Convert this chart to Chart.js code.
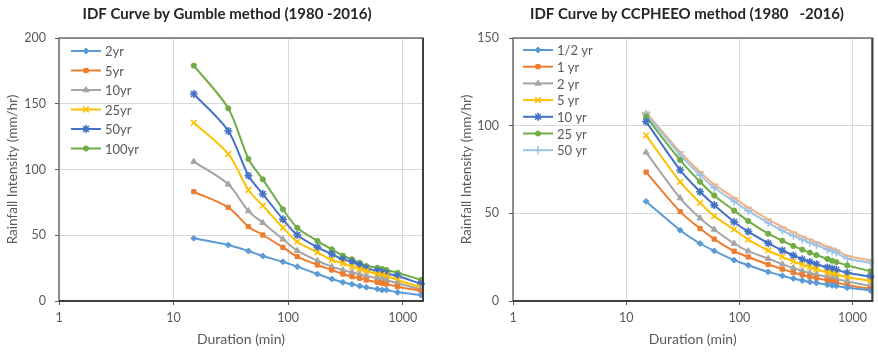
<!DOCTYPE html>
<html>
<head>
<meta charset="utf-8">
<title>IDF Curves</title>
<script src="https://cdn.jsdelivr.net/npm/chart.js@4/dist/chart.umd.min.js"></script>
<style>
  html, body { margin: 0; padding: 0; background: #ffffff; }
  #wrap { position: relative; width: 878px; height: 352px; overflow: hidden; }
  .panel { position: absolute; top: 0; height: 352px; }
</style>
</head>
<body>
<div id="wrap">
  <div class="panel" style="left:0;width:440px"><canvas id="gumbel" width="440" height="352"></canvas></div>
  <div class="panel" style="left:440px;width:438px"><canvas id="ccpheeo" width="438" height="352"></canvas></div>
</div>
<script>
// Storm durations (minutes)
const durations = [15, 30, 45, 60, 90, 120, 180, 240, 300, 360, 420, 480, 600, 660, 720, 900, 1440];
const durationTicks = [1, 10, 100, 1000];

// Gumbel method intensities (mm/hr) per return period
const gumbel2yr   = [47.7, 42.6, 38.0, 34.2, 29.9, 26.1, 20.5, 16.7, 14.2, 12.7, 11.4, 10.4, 9.1, 8.4, 8.4, 6.6, 4.6];
const gumbel5yr   = [83.1, 71.2, 56.5, 50.2, 40.8, 33.7, 27.4, 23.6, 20.5, 18.5, 17.3, 16.0, 14.2, 13.5, 12.9, 10.9, 7.8];
const gumbel10yr  = [106.0, 88.7, 68.4, 59.5, 46.9, 38.3, 30.6, 26.1, 23.6, 21.8, 20.3, 19.0, 17.3, 16.5, 16.0, 13.5, 8.9];
const gumbel25yr  = [135.6, 111.8, 84.4, 72.5, 55.7, 45.1, 37.0, 31.2, 28.7, 26.1, 24.3, 23.0, 20.5, 19.8, 19.0, 16.0, 10.4];
const gumbel50yr  = [157.4, 129.3, 95.3, 81.4, 62.1, 50.2, 40.8, 35.7, 31.7, 29.9, 27.4, 24.9, 22.8, 21.8, 21.0, 19.0, 13.0];
const gumbel100yr = [179.0, 146.5, 108.0, 92.5, 69.7, 55.7, 45.6, 39.3, 34.5, 31.7, 29.1, 26.6, 25.3, 24.3, 23.6, 21.5, 16.0];

// CCPHEEO method intensities (mm/hr) per return period
const ccpheeoHalfYr = [56.8, 40.4, 32.8, 28.6, 23.3, 20.4, 16.6, 14.4, 12.8, 11.7, 10.9, 10.3, 9.3, 8.9, 8.6, 7.6, 6.0];
const ccpheeo1yr    = [73.5, 51.0, 41.3, 35.3, 28.4, 25.1, 20.8, 18.2, 16.3, 14.9, 13.8, 13.0, 11.8, 11.2, 10.6, 9.0, 7.0];
const ccpheeo2yr    = [84.8, 58.7, 47.2, 40.8, 32.8, 28.4, 24.2, 21.0, 18.8, 17.2, 16.0, 15.1, 13.6, 13.0, 12.6, 11.2, 8.6];
const ccpheeo5yr    = [94.5, 68.0, 56.0, 48.4, 40.8, 35.0, 28.8, 25.2, 22.6, 20.7, 19.3, 18.1, 16.3, 15.6, 15.1, 13.6, 11.4];
const ccpheeo10yr   = [102.3, 74.7, 62.3, 54.7, 45.1, 39.6, 33.0, 28.8, 26.0, 23.8, 22.3, 21.0, 19.1, 18.4, 17.8, 16.1, 13.9];
const ccpheeo25yr   = [105.2, 80.4, 68.0, 60.2, 51.6, 45.6, 38.4, 34.4, 31.4, 29.3, 27.6, 26.2, 24.0, 23.0, 22.2, 20.3, 17.0];
const ccpheeo50yr   = [106.8, 83.4, 71.8, 64.6, 56.8, 51.4, 44.6, 40.2, 37.2, 35.0, 33.2, 31.8, 29.4, 28.4, 27.6, 24.2, 21.8];
const ccpheeo100yr  = [107.6, 85.0, 73.6, 66.5, 58.8, 53.4, 46.6, 42.2, 39.2, 36.8, 35.0, 33.5, 31.0, 30.0, 29.1, 25.8, 23.3];

const FONT = 'Lato, "Open Sans", "Liberation Sans", sans-serif';
const TEXT = '#595959';

function series(label, values, color, pointStyle, radius, showInLegend) {
  return {
    label,
    data: durations.map((d, i) => ({ x: d, y: values[i] })),
    borderColor: color,
    backgroundColor: color,
    borderWidth: 2,
    pointStyle,
    pointRadius: radius,
    pointHoverRadius: radius,
    pointBorderWidth: (pointStyle === 'crossRot' || pointStyle === 'star' || pointStyle === 'cross' || pointStyle === 'line') ? 1.6 : 1,
    pointBorderColor: color,
    pointBackgroundColor: color,
    tension: 0.3,
    clip: false,
    showInLegend: showInLegend !== false
  };
}

// Title, plot frame and an in-plot legend
const decorations = {
  id: 'decorations',
  afterDraw(chart, args, opts) {
    const { ctx, chartArea: a } = chart;
    ctx.save();
    // plot frame
    ctx.strokeStyle = '#6e6e6e';
    ctx.lineWidth = 1.5;
    ctx.strokeRect(a.left, a.top, a.right - a.left, a.bottom - a.top);
    ctx.strokeStyle = '#3f3f3f';
    ctx.lineWidth = 2;
    ctx.beginPath();
    ctx.moveTo(a.left, a.bottom); ctx.lineTo(a.right, a.bottom); ctx.lineTo(a.right, a.top);
    ctx.stroke();

    // title
    ctx.fillStyle = '#262626';
    ctx.font = 'bold 15px ' + FONT;
    ctx.textAlign = 'center';
    ctx.textBaseline = 'middle';
    ctx.fillText(opts.title, opts.titleX, 14);

    // legend
    ctx.font = opts.legendFont + 'px ' + FONT;
    ctx.textAlign = 'left';
    let row = 0;
    chart.data.datasets.forEach(ds => {
      if (!ds.showInLegend) return;
      const y = opts.legendTop + row * opts.legendStep;
      ctx.strokeStyle = ds.borderColor;
      ctx.lineWidth = 2;
      ctx.beginPath();
      ctx.moveTo(opts.legendX, y);
      ctx.lineTo(opts.legendX + opts.legendLine, y);
      ctx.stroke();
      ctx.fillStyle = ds.borderColor;
      ctx.lineWidth = ds.pointBorderWidth;
      Chart.helpers.drawPoint(ctx, {
        pointStyle: ds.pointStyle, radius: ds.pointRadius, borderWidth: ds.pointBorderWidth, rotation: 0
      }, opts.legendX + opts.legendLine / 2, y);
      ctx.fillStyle = TEXT;
      ctx.fillText(ds.label, opts.legendX + opts.legendLine + 4, y + 1);
      row++;
    });
    ctx.restore();
  }
};

function makeChart(canvasId, datasets, yMax, geom, deco) {
  return new Chart(document.getElementById(canvasId), {
    type: 'line',
    data: { datasets },
    plugins: [decorations],
    options: {
      responsive: false,
      animation: false,
      events: [],
      layout: { padding: { top: geom.top, right: geom.right, left: 0, bottom: 0 } },
      plugins: {
        legend: { display: false },
        title: { display: false },
        tooltip: { enabled: false },
        decorations: deco
      },
      scales: {
        x: {
          type: 'logarithmic',
          min: 1,
          max: 1500,
          afterBuildTicks: s => { s.ticks = durationTicks.map(v => ({ value: v })); },
          afterFit: s => { s.height = 51; },
          grid: { color: '#d9d9d9', lineWidth: 1, tickLength: 4, tickColor: '#595959', drawOnChartArea: true },
          border: { display: false },
          ticks: {
            color: TEXT, font: { family: FONT, size: 12.5 }, padding: 5, maxRotation: 0, autoSkip: false,
            callback: v => String(v)
          },
          title: { display: true, text: 'Duration (min)', color: TEXT, font: { family: FONT, size: 14 }, padding: { top: 0, bottom: 4 } }
        },
        y: {
          min: 0,
          max: yMax,
          afterFit: s => { s.width = geom.yWidth; },
          grid: { color: '#d9d9d9', lineWidth: 1, tickLength: 4, tickColor: '#595959' },
          border: { display: false },
          ticks: { stepSize: 50, color: TEXT, font: { family: FONT, size: 12.5 }, padding: geom.yPad },
          title: { display: true, text: 'Rainfall Intensity (mm/hr)', color: TEXT, font: { family: FONT, size: 13.5 }, padding: { top: geom.yTitlePad, bottom: 0 } }
        }
      }
    }
  });
}

makeChart('gumbel', [
  series('2yr',   gumbel2yr,   '#5b9bd5', 'rectRot', 3),
  series('5yr',   gumbel5yr,   '#ed7d31', 'rect', 3),
  series('10yr',  gumbel10yr,  '#a5a5a5', 'triangle', 3.5),
  series('25yr',  gumbel25yr,  '#ffc000', 'crossRot', 4),
  series('50yr',  gumbel50yr,  '#4472c4', 'star', 4),
  series('100yr', gumbel100yr, '#70ad47', 'circle', 2.6)
], 200,
{ top: 38, right: 17, yWidth: 59, yPad: 9, yTitlePad: 5 },
{ title: 'IDF Curve by Gumble method (1980 -2016)', titleX: 227, legendX: 71, legendTop: 51, legendStep: 19.5, legendLine: 30, legendFont: 13 });

makeChart('ccpheeo', [
  series('1/2 yr', ccpheeoHalfYr, '#5b9bd5', 'rectRot', 3),
  series('1 yr',   ccpheeo1yr,    '#ed7d31', 'rect', 3),
  series('2 yr',   ccpheeo2yr,    '#a5a5a5', 'triangle', 3.5),
  series('5 yr',   ccpheeo5yr,    '#ffc000', 'crossRot', 4),
  series('10 yr',  ccpheeo10yr,   '#4472c4', 'star', 4),
  series('25 yr',  ccpheeo25yr,   '#70ad47', 'circle', 2.6),
  series('50 yr',  ccpheeo50yr,   '#9dc3e6', 'cross', 4),
  series('100 yr', ccpheeo100yr,  '#f4b183', 'line', 4, false)
], 150,
{ top: 38, right: 2, yWidth: 73, yPad: 10, yTitlePad: 19 },
{ title: 'IDF Curve by CCPHEEO method (1980   -2016)', titleX: 247, legendX: 83, legendTop: 50, legendStep: 16.7, legendLine: 30, legendFont: 13 });
</script>
</body>
</html>
